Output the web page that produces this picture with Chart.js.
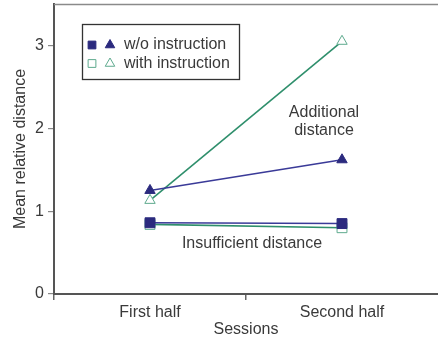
<!DOCTYPE html>
<html>
<head>
<meta charset="utf-8">
<script src="https://cdn.jsdelivr.net/npm/chart.js@4/dist/chart.umd.min.js"></script>
<style>
  html, body { margin: 0; padding: 0; background: #ffffff; }
  #wrap { width: 438px; height: 344px; }
</style>
</head>
<body>
<div id="wrap"><canvas id="chart" width="438" height="344"></canvas></div>
<script>
// Sessions on the x axis
const sessions = ['First half', 'Second half'];
const yTickValues = [0, 1, 2, 3];

// Mean relative distance per session
const withoutSquares = [0.86, 0.85];
const withoutTriangles = [1.25, 1.62];
const withSquares = [0.84, 0.80];
const withTriangles = [1.13, 3.05];

const legendLabels = ['w/o instruction', 'with instruction'];
const noteAdditional = ['Additional', 'distance'];
const noteInsufficient = 'Insufficient distance';

const NAVY = '#2b2a7e';
const NAVY_LINE = '#3a3a98';
const GREEN = '#2f8f6c';
const GREEN_MARK = '#5eaa8e';
const TEXT = '#3a3a3a';
const FONT = '"Liberation Sans", Arial, sans-serif';
const FONT_SIZE = 16;

function ds(data, lineColor, pointStyle, radius, fill, border) {
  return {
    data: data,
    borderColor: lineColor,
    borderWidth: 1.6,
    pointStyle: pointStyle,
    pointRadius: radius,
    pointBorderWidth: 1,
    pointBackgroundColor: fill,
    pointBorderColor: border,
    tension: 0,
    fill: false
  };
}

// Frame line along the top and the legend / notes drawn on the canvas
const extras = {
  id: 'extras',
  afterDraw(chart) {
    const ctx = chart.ctx;
    const a = chart.chartArea;
    const x = chart.scales.x, y = chart.scales.y;
    ctx.save();
    // top frame line
    ctx.strokeStyle = '#8a8a8a';
    ctx.lineWidth = 1.5;
    ctx.beginPath();
    ctx.moveTo(a.left, a.top + 0.5);
    ctx.lineTo(a.right, a.top + 0.5);
    ctx.stroke();

    // legend box
    const lx = a.left + 28, ly = a.top + 20, lw = 157, lh = 55;
    ctx.strokeStyle = '#333333';
    ctx.lineWidth = 1.3;
    ctx.strokeRect(lx + 0.5, ly + 0.5, lw, lh);
    const rows = [
      { y: ly + 21, fill: NAVY, border: NAVY, label: legendLabels[0] },
      { y: ly + 39.5, fill: '#ffffff', border: GREEN_MARK, label: legendLabels[1] }
    ];
    rows.forEach(r => {
      ctx.lineWidth = 1;
      ctx.strokeStyle = r.border;
      ctx.fillStyle = r.fill;
      Chart.helpers.drawPoint(ctx, { pointStyle: 'rect', radius: 5.5, borderWidth: 1 }, lx + 10, r.y);
      ctx.strokeStyle = r.border;
      ctx.fillStyle = r.fill;
      Chart.helpers.drawPoint(ctx, { pointStyle: 'triangle', radius: 5.5, borderWidth: 1 }, lx + 28, r.y);
      ctx.fillStyle = TEXT;
      ctx.font = FONT_SIZE + 'px ' + FONT;
      ctx.textBaseline = 'middle';
      ctx.textAlign = 'left';
      ctx.fillText(r.label, lx + 42, r.y);
    });

    // notes
    ctx.fillStyle = TEXT;
    ctx.font = FONT_SIZE + 'px ' + FONT;
    ctx.textAlign = 'center';
    ctx.textBaseline = 'middle';
    const xSecond = x.getPixelForValue(1);
    ctx.fillText(noteAdditional[0], xSecond - 18, y.getPixelForValue(2.19));
    ctx.fillText(noteAdditional[1], xSecond - 18, y.getPixelForValue(1.97));
    const xMid = (x.getPixelForValue(0) + x.getPixelForValue(1)) / 2;
    ctx.fillText(noteInsufficient, xMid + 6, y.getPixelForValue(0.61));
    ctx.restore();
  }
};

new Chart(document.getElementById('chart'), {
  type: 'line',
  data: {
    labels: sessions,
    // earlier datasets are painted on top, so the filled markers come first
    datasets: [
      ds(withoutSquares, NAVY_LINE, 'rect', 7, NAVY, NAVY),
      ds(withoutTriangles, NAVY_LINE, 'triangle', 6, NAVY, NAVY),
      ds(withSquares, GREEN, 'rect', 7, '#ffffff', GREEN_MARK),
      ds(withTriangles, GREEN, 'triangle', 6, '#ffffff', GREEN_MARK)
    ]
  },
  options: {
    responsive: false,
    animation: false,
    layout: { autoPadding: false, padding: { top: 4, right: -3, left: 0, bottom: 0 } },
    plugins: {
      legend: { display: false },
      tooltip: { enabled: false }
    },
    scales: {
      x: {
        type: 'category',
        offset: true,
        grid: {
          offset: true,
          drawOnChartArea: false,
          drawTicks: true,
          tickLength: 6,
          // no tick mark at the open right end of the axis (that line has no tick context)
          color: (c) => (c.tick ? '#666666' : 'rgba(0,0,0,0)'),
          lineWidth: 1.5
        },
        border: { display: true, color: '#555555', width: 2 },
        ticks: {
          color: TEXT,
          font: { family: FONT, size: FONT_SIZE },
          padding: 3
        },
        title: {
          display: true,
          text: 'Sessions',
          color: TEXT,
          font: { family: FONT, size: FONT_SIZE },
          padding: { top: 0, bottom: 5 }
        },
        afterFit(scale) {
          scale.height = 50;
          scale.paddingLeft = 0;
          scale.paddingRight = 0;
        }
      },
      y: {
        min: 0,
        max: 3.5,
        afterBuildTicks(scale) {
          scale.ticks = yTickValues.map(v => ({ value: v }));
        },
        grid: {
          drawOnChartArea: false,
          drawTicks: true,
          tickLength: 6,
          color: '#888888',
          lineWidth: 1.2
        },
        border: { display: true, color: '#555555', width: 2 },
        ticks: {
          color: TEXT,
          font: { family: FONT, size: FONT_SIZE },
          padding: 4
        },
        title: {
          display: true,
          text: 'Mean relative distance',
          color: TEXT,
          font: { family: FONT, size: FONT_SIZE },
          padding: { top: 11, bottom: 0 }
        },
        afterFit(scale) {
          scale.width = 54;
          scale.paddingTop = 0;
          scale.paddingBottom = 0;
        }
      }
    }
  },
  plugins: [extras]
});
</script>
</body>
</html>
